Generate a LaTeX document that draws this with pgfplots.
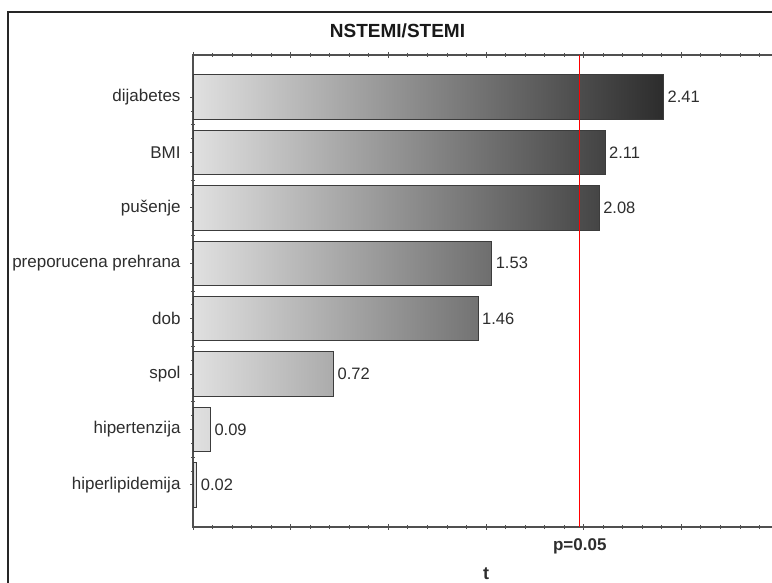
\documentclass[border=0pt]{standalone}
\usepackage{fontspec}
\setmainfont{Liberation Sans}
\usepackage{pgfplots}
\pgfplotsset{compat=1.18}

\definecolor{axisgray}{RGB}{80,80,80}
\definecolor{txtgray}{RGB}{46,46,46}
\definecolor{barline}{RGB}{60,60,60}

% one shaded bar: the darker end follows the t value
\pgfplotsset{
  tbar/.style={
    xbar, bar shift=0pt, bar width=0.8,
    draw=barline, line width=0.9bp,
    left color=black!12, right color=black!#1,
    point meta=x,
    nodes near coords,
    every node near coord/.append style={font=\fontsize{16.5bp}{19bp}\selectfont,
      text=txtgray, anchor=west, inner sep=0pt, xshift=3.5bp},
  },
}

\begin{document}
\begin{tikzpicture}[x=1bp,y=1bp]
\clip (0,0) rectangle (772,583);
\fill[white] (0,0) rectangle (772,583);
% outer frame
\draw[line width=1.4bp, black!85] (8,-20) -- (8,571) -- (800,571);
\node[font=\bfseries\fontsize{19bp}{22bp}\selectfont, text=black!90, anchor=base]
  at (397.5,545) {NSTEMI/STEMI};

\begin{axis}[
  at={(193bp,56bp)}, anchor=south west,
  scale only axis, width=586bp, height=472bp,
  xmin=0, xmax=3, ymin=0.24, ymax=8.76,
  axis line style={axisgray, line width=1.1bp},
  tick style={axisgray, line width=0.8bp},
  tick align=center,
  major tick length=6bp, minor tick length=4bp,
  xtick={0,0.5,...,3}, minor x tick num=4,
  xticklabels={{},{},{},{},{},{},{}},
  extra x ticks={1.98},
  extra x tick labels={p=0.05},
  extra x tick style={grid=none, major tick length=0pt,
    tick label style={font=\bfseries\fontsize{17bp}{20bp}\selectfont, text=txtgray,
      anchor=base, yshift=-23.7bp, inner sep=0pt}},
  ytick={1,...,8}, minor y tick num=3,
  yticklabels={hiperlipidemija, hipertenzija, spol, dob, preporucena prehrana, pušenje, {BMI\ }, dijabetes},
  yticklabel style={font=\fontsize{17bp}{20bp}\selectfont, text=txtgray, inner sep=0pt, xshift=-9.3bp},
  xlabel={t},
  xlabel style={at={(axis description cs:0.5,0)}, anchor=base, yshift=-52.5bp,
    font=\bfseries\fontsize{18bp}{20bp}\selectfont, text=txtgray, inner sep=0pt},
  /pgf/number format/.cd, fixed, fixed zerofill, precision=2, assume math mode=true,
]
\addplot[tbar=82.7] coordinates {(2.41,8)};
\addplot[tbar=73.7] coordinates {(2.11,7)};
\addplot[tbar=72.9] coordinates {(2.08,6)};
\addplot[tbar=56.9] coordinates {(1.53,5)};
\addplot[tbar=54.9] coordinates {(1.46,4)};
\addplot[tbar=32.9] coordinates {(0.72,3)};
\addplot[tbar=14.5] coordinates {(0.09,2)};
\addplot[tbar=12.4] coordinates {(0.02,1)};
% critical t for p = 0.05
\addplot[draw=red, line width=1bp, sharp plot, mark=none]
  coordinates {(1.98,0.24) (1.98,8.76)};
\end{axis}
\end{tikzpicture}
\end{document}
